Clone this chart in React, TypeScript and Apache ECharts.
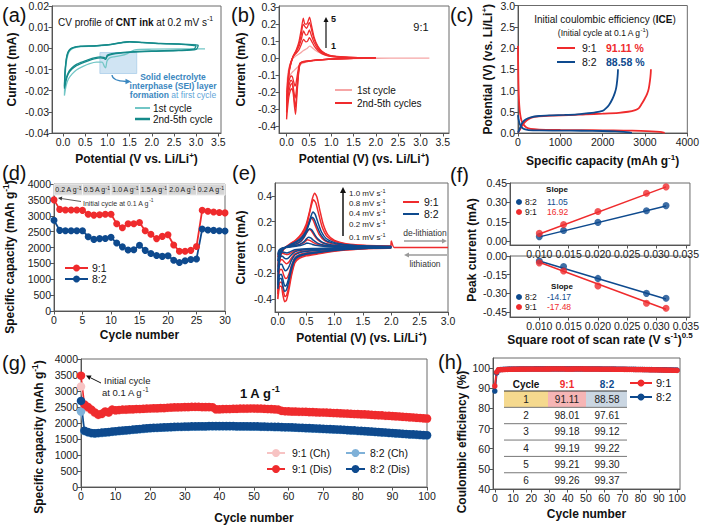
import React, { useEffect, useRef } from "react";
import * as echarts from "echarts";

const FONT = 'Arial, "Liberation Sans", Helvetica, sans-serif';
const RED = "#ef2b2d";
const BLUE = "#0e4a8e";
const TEAL_L = "#72c6c6";
const TEAL_D = "#158a8a";
const RED_L = "#f6a6a6";
const PINK = "#f7c3c3";
const LBLUE = "#7fb1d8";

// ================= DATA =================
// (a) CV of CNT ink, 0.2 mV/s  [potential V, current mA]
const cntCycle1 = [[3.2,-0.0003],[2.6,-0.0003],[2.0,-0.0004],[1.6,-0.0008],[1.45,-0.0025],[1.3,-0.0035],[1.15,-0.004],[1.05,-0.0045],[0.99,-0.006],[0.96,-0.0092],[0.93,-0.0085],[0.88,-0.0065],[0.75,-0.0065],[0.6,-0.0072],[0.45,-0.0085],[0.3,-0.0102],[0.2,-0.0122],[0.12,-0.0145],[0.07,-0.0175],[0.03,-0.0223],[0.04,-0.016],[0.06,-0.009],[0.09,-0.0045],[0.14,-0.0015],[0.22,0.0],[0.4,0.0008],[0.7,0.001],[1.0,0.0015],[1.3,0.0025],[1.5,0.003],[1.8,0.0027],[2.2,0.0022],[2.6,0.002],[3.0,0.0017]];
const cntCycle2 = [[3.05,0.0015],[3.0,-0.0005],[2.6,-0.0011],[2.0,-0.0014],[1.6,-0.0018],[1.3,-0.0022],[1.1,-0.0028],[1.0,-0.0036],[0.96,-0.0052],[0.92,-0.0048],[0.85,-0.0045],[0.7,-0.005],[0.55,-0.006],[0.4,-0.0072],[0.3,-0.0082],[0.2,-0.0098],[0.12,-0.012],[0.07,-0.015],[0.03,-0.019],[0.04,-0.013],[0.06,-0.0075],[0.09,-0.0035],[0.14,-0.001],[0.22,0.0002],[0.4,0.0009],[0.7,0.0011],[1.0,0.0016],[1.3,0.0026],[1.5,0.0032],[1.8,0.0028],[2.2,0.0023],[2.6,0.0021],[3.05,0.0015]];
const cntCycle5 = [[3.0,0.0012],[2.95,-0.0004],[2.6,-0.0009],[2.0,-0.0012],[1.6,-0.0016],[1.3,-0.002],[1.1,-0.0025],[1.0,-0.0032],[0.96,-0.0046],[0.92,-0.0043],[0.85,-0.004],[0.7,-0.0045],[0.55,-0.0055],[0.4,-0.0066],[0.3,-0.0076],[0.2,-0.0092],[0.12,-0.0113],[0.07,-0.0142],[0.03,-0.018],[0.04,-0.012],[0.06,-0.007],[0.09,-0.003],[0.14,-0.0008],[0.22,0.0003],[0.4,0.001],[0.7,0.0012],[1.0,0.0017],[1.3,0.0027],[1.5,0.0031],[1.8,0.0027],[2.2,0.0022],[2.6,0.002],[3.0,0.0012]];
const seiBox = [[0.83, -0.002], [1.66, -0.0119]];

// (b) CV of 9:1, cycles 1-5
const cv91Cycle1 = [[3.2,0.0],[2.6,0.0],[2.0,-0.001],[1.5,-0.003],[1.1,-0.006],[0.8,-0.01],[0.6,-0.015],[0.45,-0.022],[0.35,-0.032],[0.28,-0.045],[0.22,-0.06],[0.16,-0.075],[0.12,-0.085],[0.08,-0.1],[0.05,-0.12],[0.02,-0.16],[0.0,-0.2],[0.01,-0.15],[0.03,-0.09],[0.06,-0.05],[0.1,-0.02],[0.15,0.0],[0.22,0.015],[0.3,0.028],[0.38,0.045],[0.45,0.055],[0.52,0.07],[0.58,0.06],[0.65,0.045],[0.75,0.03],[0.9,0.015],[1.1,0.007],[1.4,0.003],[2.0,0.001]];
const cv91Cycle2 = [[2.0,0.002],[1.5,-0.002],[1.1,-0.005],[0.8,-0.009],[0.6,-0.013],[0.45,-0.018],[0.35,-0.022],[0.3,-0.03],[0.27,-0.055],[0.24,-0.1],[0.21,-0.15],[0.19,-0.165],[0.16,-0.14],[0.13,-0.11],[0.1,-0.105],[0.07,-0.12],[0.04,-0.15],[0.02,-0.19],[0.0,-0.25],[0.01,-0.19],[0.03,-0.12],[0.06,-0.06],[0.1,-0.02],[0.15,0.01],[0.22,0.03],[0.28,0.05],[0.33,0.08],[0.38,0.11],[0.43,0.095],[0.47,0.1],[0.51,0.12],[0.56,0.1],[0.62,0.07],[0.7,0.045],[0.8,0.025],[0.95,0.012],[1.2,0.005],[1.6,0.002],[2.0,0.002]];
const cv91Cycle3 = [[2.0,0.002],[1.5,-0.002],[1.1,-0.005],[0.8,-0.009],[0.6,-0.013],[0.45,-0.018],[0.35,-0.023],[0.3,-0.032],[0.27,-0.07],[0.24,-0.14],[0.21,-0.21],[0.19,-0.235],[0.16,-0.19],[0.13,-0.14],[0.1,-0.13],[0.07,-0.145],[0.04,-0.18],[0.02,-0.23],[0.0,-0.29],[0.01,-0.22],[0.03,-0.14],[0.06,-0.07],[0.1,-0.025],[0.15,0.01],[0.22,0.04],[0.28,0.07],[0.33,0.11],[0.38,0.16],[0.43,0.135],[0.47,0.14],[0.51,0.165],[0.56,0.13],[0.62,0.09],[0.7,0.055],[0.8,0.03],[0.95,0.014],[1.2,0.006],[1.6,0.002],[2.0,0.002]];
const cv91Cycle4 = [[2.0,0.002],[1.5,-0.002],[1.1,-0.005],[0.8,-0.009],[0.6,-0.014],[0.45,-0.019],[0.35,-0.024],[0.3,-0.035],[0.27,-0.08],[0.24,-0.17],[0.21,-0.26],[0.195,-0.29],[0.17,-0.24],[0.14,-0.17],[0.11,-0.15],[0.08,-0.165],[0.05,-0.2],[0.02,-0.26],[0.0,-0.32],[0.01,-0.24],[0.03,-0.15],[0.06,-0.075],[0.1,-0.028],[0.15,0.012],[0.22,0.045],[0.28,0.085],[0.33,0.14],[0.37,0.2],[0.41,0.185],[0.45,0.175],[0.51,0.21],[0.56,0.165],[0.62,0.11],[0.7,0.065],[0.8,0.035],[0.95,0.016],[1.2,0.007],[1.6,0.003],[2.0,0.002]];
const cv91Cycle5 = [[2.0,0.002],[1.5,-0.002],[1.1,-0.005],[0.8,-0.01],[0.6,-0.015],[0.45,-0.02],[0.35,-0.025],[0.3,-0.038],[0.27,-0.09],[0.24,-0.19],[0.215,-0.29],[0.2,-0.33],[0.175,-0.28],[0.145,-0.2],[0.115,-0.18],[0.085,-0.19],[0.05,-0.23],[0.02,-0.3],[0.0,-0.36],[0.01,-0.26],[0.03,-0.16],[0.06,-0.08],[0.1,-0.03],[0.15,0.012],[0.22,0.05],[0.28,0.1],[0.33,0.17],[0.375,0.235],[0.41,0.2],[0.45,0.2],[0.515,0.24],[0.56,0.19],[0.62,0.12],[0.7,0.07],[0.8,0.038],[0.95,0.018],[1.2,0.008],[1.6,0.003],[2.0,0.002]];

// (c) first charge/discharge at 0.1 A/g [capacity mAh/g, potential V]
const gcd91Charge = [[0,0.01],[30,0.05],[70,0.12],[130,0.22],[210,0.3],[320,0.36],[480,0.39],[840,0.41],[1200,0.42],[1600,0.44],[2000,0.455],[2380,0.475],[2600,0.5],[2770,0.54],[2850,0.58],[2920,0.68],[2990,0.8],[3050,0.92],[3090,1.05],[3120,1.25],[3135,1.4],[3140,1.5]];
const gcd91Discharge = [[0,2.05],[4,1.6],[10,1.2],[18,0.9],[30,0.65],[50,0.45],[80,0.3],[130,0.2],[200,0.13],[300,0.095],[500,0.08],[1000,0.072],[1500,0.068],[2000,0.064],[2500,0.058],[2900,0.05],[3150,0.04],[3350,0.024],[3465,0.005]];
const gcd82Charge = [[0,0.01],[25,0.06],[60,0.15],[110,0.25],[180,0.32],[300,0.37],[500,0.4],[800,0.415],[1100,0.425],[1400,0.44],[1610,0.46],[1800,0.48],[1995,0.52],[2076,0.58],[2150,0.66],[2230,0.8],[2290,0.95],[2323,1.08],[2345,1.25],[2358,1.4],[2362,1.5]];
const gcd82Discharge = [[0,0.42],[10,0.35],[25,0.27],[50,0.19],[90,0.13],[150,0.09],[250,0.07],[500,0.06],[1000,0.057],[1500,0.053],[2000,0.047],[2300,0.04],[2500,0.028],[2620,0.015],[2690,0.003]];

// (d) rate capability (cycle 0..30)
const rate91 = [3500,3200,3180,3180,3180,3170,3050,3020,3030,3050,3050,2750,2620,2750,2750,2790,2530,2420,2280,2350,2400,2080,1880,1880,1910,2030,3175,3140,3120,3100,3090];
const rate82 = [2860,2540,2530,2530,2530,2530,2340,2255,2280,2285,2320,2140,2020,1920,1930,2070,1910,1810,1750,1720,1740,1600,1530,1580,1620,1635,2580,2550,2540,2530,2520];
const rateBands = [[0,5],[5,10],[10,15],[15,20],[20,25],[25,30]];
const rateBandLabels = ["0.2", "0.5", "1.0", "1.5", "2.0", "0.2"];

// (e) CV at different scan rates
const scanRateLabels = ["1.0", "0.8", "0.4", "0.2", "0.1"];
const cvE91_10 = [[3.0,0.0],[2.05,0.0],[2.0,0.05],[1.98,-0.004],[1.6,-0.008],[1.2,-0.02],[0.9,-0.035],[0.7,-0.05],[0.5,-0.065],[0.38,-0.085],[0.3,-0.12],[0.24,-0.22],[0.19,-0.34],[0.15,-0.41],[0.12,-0.42],[0.09,-0.37],[0.06,-0.3],[0.03,-0.3],[0.01,-0.36],[0.0,-0.4],[0.01,-0.25],[0.03,-0.12],[0.07,-0.04],[0.13,0.0],[0.22,0.03],[0.32,0.06],[0.42,0.11],[0.5,0.18],[0.56,0.28],[0.61,0.38],[0.65,0.42],[0.69,0.39],[0.74,0.29],[0.8,0.18],[0.88,0.1],[1.0,0.055],[1.2,0.03],[1.5,0.018],[2.0,0.012]];
const cvE91_08 = [[2.0,0.0],[1.6,-0.007],[1.2,-0.018],[0.9,-0.032],[0.7,-0.045],[0.5,-0.058],[0.38,-0.077],[0.3,-0.11],[0.24,-0.2],[0.19,-0.31],[0.155,-0.37],[0.125,-0.38],[0.095,-0.33],[0.065,-0.27],[0.035,-0.27],[0.015,-0.32],[0.0,-0.36],[0.01,-0.22],[0.03,-0.1],[0.07,-0.035],[0.13,0.0],[0.22,0.027],[0.32,0.055],[0.42,0.1],[0.5,0.16],[0.55,0.25],[0.6,0.34],[0.63,0.37],[0.67,0.345],[0.72,0.26],[0.78,0.16],[0.86,0.09],[1.0,0.048],[1.2,0.026],[1.5,0.016],[2.0,0.01]];
const cvE91_04 = [[2.0,0.0],[1.6,-0.005],[1.2,-0.012],[0.9,-0.022],[0.7,-0.032],[0.5,-0.042],[0.38,-0.055],[0.3,-0.08],[0.24,-0.14],[0.2,-0.2],[0.165,-0.235],[0.135,-0.24],[0.1,-0.21],[0.07,-0.17],[0.04,-0.17],[0.015,-0.21],[0.0,-0.25],[0.01,-0.15],[0.03,-0.07],[0.07,-0.025],[0.13,0.0],[0.22,0.02],[0.32,0.04],[0.4,0.07],[0.47,0.12],[0.53,0.18],[0.56,0.215],[0.58,0.23],[0.62,0.215],[0.67,0.16],[0.73,0.1],[0.82,0.055],[0.95,0.03],[1.2,0.016],[1.5,0.01],[2.0,0.007]];
const cvE91_02 = [[2.0,0.0],[1.6,-0.003],[1.2,-0.008],[0.9,-0.014],[0.7,-0.02],[0.5,-0.027],[0.38,-0.035],[0.3,-0.05],[0.24,-0.08],[0.2,-0.11],[0.17,-0.123],[0.145,-0.125],[0.11,-0.11],[0.08,-0.095],[0.05,-0.095],[0.02,-0.12],[0.0,-0.15],[0.01,-0.09],[0.03,-0.045],[0.07,-0.015],[0.13,0.0],[0.22,0.013],[0.32,0.027],[0.4,0.045],[0.46,0.075],[0.51,0.115],[0.55,0.14],[0.59,0.13],[0.64,0.095],[0.7,0.06],[0.8,0.033],[0.95,0.018],[1.2,0.01],[1.5,0.006],[2.0,0.004]];
const cvE91_01 = [[2.0,0.0],[1.6,-0.002],[1.2,-0.005],[0.9,-0.008],[0.7,-0.011],[0.5,-0.015],[0.38,-0.02],[0.3,-0.027],[0.24,-0.04],[0.2,-0.05],[0.16,-0.055],[0.12,-0.05],[0.08,-0.045],[0.05,-0.048],[0.02,-0.06],[0.0,-0.075],[0.01,-0.045],[0.03,-0.022],[0.07,-0.008],[0.13,0.0],[0.22,0.008],[0.32,0.015],[0.4,0.024],[0.46,0.037],[0.49,0.05],[0.52,0.06],[0.56,0.055],[0.62,0.04],[0.7,0.025],[0.8,0.015],[1.0,0.008],[1.4,0.004],[2.0,0.002]];
const cvE82_10 = [[2.0,0.0],[1.6,-0.006],[1.2,-0.016],[0.9,-0.028],[0.7,-0.04],[0.5,-0.052],[0.38,-0.068],[0.3,-0.095],[0.24,-0.17],[0.19,-0.27],[0.15,-0.33],[0.12,-0.34],[0.09,-0.3],[0.06,-0.24],[0.03,-0.24],[0.01,-0.29],[0.0,-0.32],[0.01,-0.2],[0.03,-0.09],[0.07,-0.03],[0.13,0.0],[0.22,0.022],[0.32,0.045],[0.42,0.08],[0.5,0.13],[0.55,0.19],[0.59,0.25],[0.62,0.275],[0.66,0.255],[0.71,0.19],[0.77,0.12],[0.85,0.07],[1.0,0.038],[1.2,0.022],[1.5,0.013],[2.0,0.008]];
const cvE82_08 = [[2.0,0.0],[1.6,-0.005],[1.2,-0.014],[0.9,-0.025],[0.7,-0.035],[0.5,-0.046],[0.38,-0.06],[0.3,-0.085],[0.24,-0.15],[0.19,-0.24],[0.155,-0.29],[0.125,-0.3],[0.095,-0.26],[0.065,-0.21],[0.035,-0.21],[0.012,-0.26],[0.0,-0.29],[0.01,-0.18],[0.03,-0.08],[0.07,-0.027],[0.13,0.0],[0.22,0.019],[0.32,0.04],[0.42,0.07],[0.49,0.115],[0.54,0.17],[0.58,0.22],[0.6,0.235],[0.64,0.22],[0.69,0.165],[0.75,0.105],[0.83,0.06],[1.0,0.032],[1.2,0.019],[1.5,0.011],[2.0,0.007]];
const cvE82_04 = [[2.0,0.0],[1.6,-0.004],[1.2,-0.009],[0.9,-0.016],[0.7,-0.023],[0.5,-0.031],[0.38,-0.04],[0.3,-0.058],[0.24,-0.1],[0.2,-0.145],[0.16,-0.175],[0.13,-0.18],[0.1,-0.16],[0.07,-0.13],[0.04,-0.13],[0.015,-0.16],[0.0,-0.19],[0.01,-0.11],[0.03,-0.05],[0.07,-0.017],[0.13,0.0],[0.22,0.013],[0.32,0.028],[0.4,0.048],[0.46,0.08],[0.51,0.12],[0.56,0.145],[0.6,0.135],[0.65,0.1],[0.71,0.065],[0.8,0.037],[0.95,0.02],[1.2,0.011],[1.5,0.007],[2.0,0.005]];
const cvE82_02 = [[2.0,0.0],[1.6,-0.002],[1.2,-0.005],[0.9,-0.009],[0.7,-0.013],[0.5,-0.018],[0.38,-0.024],[0.3,-0.034],[0.24,-0.055],[0.2,-0.075],[0.17,-0.086],[0.14,-0.088],[0.11,-0.08],[0.08,-0.068],[0.05,-0.068],[0.02,-0.085],[0.0,-0.105],[0.01,-0.06],[0.03,-0.028],[0.07,-0.01],[0.13,0.0],[0.22,0.008],[0.32,0.017],[0.4,0.028],[0.46,0.045],[0.5,0.065],[0.54,0.08],[0.58,0.074],[0.63,0.055],[0.7,0.034],[0.8,0.02],[0.95,0.011],[1.2,0.006],[1.5,0.004],[2.0,0.003]];
const cvE82_01 = [[2.0,0.0],[1.6,-0.001],[1.2,-0.003],[0.9,-0.005],[0.7,-0.007],[0.5,-0.01],[0.38,-0.013],[0.3,-0.018],[0.24,-0.028],[0.2,-0.037],[0.16,-0.042],[0.12,-0.039],[0.08,-0.034],[0.05,-0.035],[0.02,-0.045],[0.0,-0.055],[0.01,-0.032],[0.03,-0.015],[0.07,-0.005],[0.13,0.0],[0.22,0.004],[0.32,0.009],[0.4,0.015],[0.46,0.024],[0.49,0.03],[0.51,0.035],[0.55,0.032],[0.61,0.024],[0.7,0.015],[0.8,0.009],[1.0,0.005],[1.4,0.002],[2.0,0.001]];

// (f) peak current vs sqrt(scan rate)
const sqrtScanRate = [0.01, 0.01414, 0.02, 0.02828, 0.03162];
const anodicPeak82 = [0.035, 0.082, 0.145, 0.235, 0.275];
const anodicPeak91 = [0.06, 0.128, 0.23, 0.37, 0.42];
const cathodicPeak82 = [-0.04, -0.085, -0.18, -0.3, -0.34];
const cathodicPeak91 = [-0.055, -0.12, -0.24, -0.38, -0.42];
const fitAnodic82 = [[0.01, 0.033], [0.0316, 0.272]];
const fitAnodic91 = [[0.01, 0.055], [0.0316, 0.42]];
const fitCathodic82 = [[0.01, -0.04], [0.0316, -0.346]];
const fitCathodic91 = [[0.01, -0.05], [0.0316, -0.428]];
const slopeAnodic = { "8:2": "11.05", "9:1": "16.92" };
const slopeCathodic = { "8:2": "-14.17", "9:1": "-17.48" };

// (g) long cycling at 1 A/g (cycle 0..100)
const cyc91Dis = [3480,2580,2500,2420,2330,2260,2290,2360,2330,2420,2400, 2410,2420,2420,2430,2430,2440,2440,2445,2450, 2455,2460,2460,2470,2470,2480,2485,2490,2490,2495, 2500,2500,2505,2505,2505,2500,2500,2500,2495,2430, 2430,2435,2440,2440,2445,2445,2450,2450,2450,2455, 2455,2450,2450,2445,2440,2435,2430,2420,2380,2370, 2365,2360,2360,2355,2355,2350,2345,2340,2335,2330, 2330,2325,2320,2315,2310,2305,2300,2295,2290,2285, 2280,2275,2270,2265,2255,2250,2245,2240,2230,2225, 2220,2210,2205,2195,2190,2180,2175,2165,2160,2150,2140];
const cyc91Ch = [3140,2530,2470,2395,2310,2245,2275,2345,2320,2405,2390, 2398,2408,2410,2418,2420,2428,2430,2435,2440, 2444,2450,2450,2458,2460,2468,2474,2478,2480,2485, 2488,2490,2494,2495,2494,2490,2490,2488,2484,2420, 2420,2424,2430,2430,2434,2435,2440,2440,2440,2444, 2445,2440,2440,2434,2430,2425,2420,2410,2370,2360, 2355,2350,2350,2345,2345,2340,2335,2330,2325,2320, 2320,2315,2310,2305,2300,2295,2290,2285,2280,2275, 2270,2265,2260,2255,2245,2240,2235,2230,2220,2215, 2210,2200,2195,2185,2180,2170,2165,2155,2150,2140,2130];
const cyc82Dis = [2690,1760,1720,1690,1680,1690,1700,1710,1720,1735,1745, 1755,1765,1775,1785,1795,1805,1815,1825,1835,1845, 1850,1855,1860,1865,1870,1875,1880,1885,1885,1890, 1890,1895,1895,1900,1900,1900,1905,1905,1905,1905, 1905,1905,1905,1905,1900,1900,1900,1900,1895,1895, 1895,1890,1890,1885,1885,1880,1880,1875,1870,1870, 1865,1860,1855,1850,1845,1840,1835,1830,1825,1820, 1815,1810,1805,1800,1795,1790,1780,1775,1770,1760, 1755,1750,1740,1735,1725,1720,1710,1705,1695,1690, 1680,1675,1665,1660,1650,1645,1640,1630,1625,1620];
const cyc82Ch = [2360,1745,1705,1678,1668,1678,1688,1698,1708,1722,1733, 1743,1753,1763,1773,1783,1793,1803,1813,1823,1833, 1838,1843,1848,1853,1858,1863,1868,1873,1873,1878, 1878,1883,1883,1888,1888,1888,1893,1893,1893,1893, 1893,1893,1893,1893,1888,1888,1888,1888,1883,1883, 1883,1878,1878,1873,1873,1868,1868,1863,1858,1858, 1853,1848,1843,1838,1833,1828,1823,1818,1813,1808, 1803,1798,1793,1788,1783,1778,1768,1763,1758,1748, 1743,1738,1728,1723,1713,1708,1698,1693,1683,1678, 1668,1663,1653,1648,1638,1633,1628,1618,1613,1608];

// (h) coulombic efficiency (cycle 0..100)
const ce91 = [91.11,98.01,99.18,99.19,99.21,99.26,99.31,99.35,99.38,99.40, 99.42,99.44,99.45,99.46,99.47,99.48,99.48,99.49,99.50,99.50, 99.51,99.51,99.52,99.52,99.52,99.53,99.53,99.53,99.54,99.54, 99.54,99.55,99.55,99.55,99.55,99.55,99.56,99.56,99.56,99.50, 99.52,99.53,99.54,99.54,99.55,99.55,99.55,99.55,99.55,99.54, 99.54,99.54,99.53,99.53,99.52,99.52,99.51,99.50,99.46,99.45, 99.45,99.44,99.44,99.43,99.43,99.42,99.41,99.40,99.39,99.38, 99.37,99.36,99.35,99.34,99.33,99.32,99.30,99.29,99.28,99.26, 99.25,99.23,99.22,99.20,99.18,99.17,99.15,99.13,99.11,99.09, 99.07,99.05,99.03,99.01,98.99,98.97,98.95,98.93,98.91,98.89,98.87];
const ce82 = [88.58,97.61,99.12,99.22,99.30,99.37,99.41,99.44,99.47,99.49, 99.50,99.52,99.53,99.54,99.55,99.56,99.56,99.57,99.57,99.58, 99.58,99.58,99.59,99.59,99.59,99.60,99.60,99.60,99.60,99.60, 99.61,99.61,99.61,99.61,99.61,99.61,99.61,99.61,99.60,99.60, 99.60,99.60,99.60,99.60,99.60,99.59,99.59,99.59,99.59,99.58, 99.58,99.58,99.57,99.57,99.56,99.56,99.55,99.55,99.54,99.53, 99.53,99.52,99.51,99.50,99.49,99.48,99.47,99.46,99.45,99.44, 99.43,99.42,99.41,99.40,99.39,99.38,99.36,99.35,99.34,99.33, 99.31,99.30,99.29,99.27,99.26,99.24,99.23,99.21,99.20,99.18, 99.16,99.15,99.13,99.12,99.10,99.08,99.07,99.05,99.03,99.02,99.00];
const ceTableHeader = ["Cycle", "9:1", "8:2"];
const ceTableRows = [["1","91.11","88.58"],["2","98.01","97.61"],["3","99.18","99.12"],["4","99.19","99.22"],["5","99.21","99.30"],["6","99.26","99.37"]];

// tick values
const ticksPot35 = [0, 0.5, 1, 1.5, 2, 2.5, 3, 3.5];
const ticksA_y = [-0.04, -0.03, -0.02, -0.01, 0, 0.01, 0.02];
const ticksB_y = [-0.4, -0.3, -0.2, -0.1, 0, 0.1, 0.2, 0.3];
const ticksC_x = [0, 1000, 2000, 3000, 4000];
const ticksC_y = [0, 0.5, 1, 1.5, 2, 2.5, 3];
const ticksD_x = [0, 5, 10, 15, 20, 25, 30];
const ticksCap = [0, 500, 1000, 1500, 2000, 2500, 3000, 3500, 4000];
const ticksE_x = [0, 0.5, 1, 1.5, 2, 2.5, 3];
const ticksE_y = [-0.4, -0.2, 0, 0.2, 0.4];
const ticksF_x = [0.01, 0.015, 0.02, 0.025, 0.03, 0.035];
const ticksFTop_y = [0, 0.15, 0.3, 0.45];
const ticksFBot_y = [-0.45, -0.3, -0.15, 0];
const ticksCycle100 = [0, 10, 20, 30, 40, 50, 60, 70, 80, 90, 100];
const ticksH_y = [40, 50, 60, 70, 80, 90, 100];

// ================= helpers =================
const nameStyle = {
  fontFamily: FONT, fontSize: 12, fontWeight: "bold", color: "#111", lineHeight: 16,
  rich: { sup: { fontFamily: FONT, fontSize: 8, fontWeight: "bold", color: "#111", verticalAlign: "top", lineHeight: 8 } },
};

function vAxis(gi: number, min: number, max: number, ticks: number[], dec: number, name?: string, gap?: number) {
  return {
    type: "value", gridIndex: gi, min, max,
    axisLine: { show: true, onZero: false, lineStyle: { color: "#555", width: 1 } },
    axisTick: { show: true, length: 3.5, customValues: ticks, lineStyle: { color: "#555" } },
    axisLabel: { show: true, customValues: ticks, formatter: (v: number) => Number(v).toFixed(dec), fontSize: 10.5, color: "#1a1a1a", fontFamily: FONT, margin: 3 },
    splitLine: { show: false },
    name: name || "", nameLocation: "middle", nameGap: gap || 20, nameTextStyle: nameStyle,
  };
}

function R(size: number, color = "#111", extra: any = {}) {
  const lh = Math.round(size * 1.4);
  const sub = Math.round(size * 0.7 * 10) / 10;
  return {
    n: { fontFamily: FONT, fontSize: size, fontWeight: "normal", fill: color, color, lineHeight: lh },
    b: { fontFamily: FONT, fontSize: size, fontWeight: "bold", fill: color, color, lineHeight: lh },
    s: { fontFamily: FONT, fontSize: sub, fontWeight: "normal", fill: color, color, verticalAlign: "top", lineHeight: sub },
    bs: { fontFamily: FONT, fontSize: sub, fontWeight: "bold", fill: color, color, verticalAlign: "top", lineHeight: sub },
    ...extra,
  };
}

function T(x: number, y: number, text: string, size: number, o: any = {}) {
  const align = o.align || "left";
  return {
    type: "text", x, y, z: 100, silent: true, rotation: o.rot || 0,
    style: {
      text, fontSize: size, fontFamily: FONT, fontWeight: o.bold ? "bold" : "normal",
      fill: o.color || "#111", align, textAlign: align, verticalAlign: "middle", textVerticalAlign: "middle",
      lineHeight: Math.round(size * 1.4), rich: o.rich,
    },
  };
}

function L(x1: number, y1: number, x2: number, y2: number, color: string, w = 1) {
  return { type: "line", z: 100, silent: true, shape: { x1, y1, x2, y2 }, style: { stroke: color, lineWidth: w } };
}

function C(cx: number, cy: number, r: number, color: string) {
  return { type: "circle", z: 101, silent: true, shape: { cx, cy, r }, style: { fill: color } };
}

function arrow(x1: number, y1: number, x2: number, y2: number, color: string, w = 1, hl = 5, hw = 2.5) {
  const a = Math.atan2(y2 - y1, x2 - x1);
  const bx = x2 - hl * Math.cos(a), by = y2 - hl * Math.sin(a);
  const px = -Math.sin(a) * hw, py = Math.cos(a) * hw;
  return [
    L(x1, y1, bx, by, color, w),
    { type: "polygon", z: 100, silent: true, shape: { points: [[x2, y2], [bx + px, by + py], [bx - px, by - py]] }, style: { fill: color } },
  ];
}

function lineSeries(ai: number, data: number[][], color: string, width = 1.4, extra: any = {}) {
  return {
    type: "line", xAxisIndex: ai, yAxisIndex: ai, data, symbol: "none", showSymbol: false,
    smooth: 0.25, lineStyle: { color, width }, itemStyle: { color }, silent: true, z: 3, ...extra,
  };
}

function dotSeries(ai: number, data: number[][], color: string, size: number, width: number, extra: any = {}) {
  return {
    type: "line", xAxisIndex: ai, yAxisIndex: ai, data, symbol: "circle", symbolSize: size, showSymbol: true,
    lineStyle: { color, width }, itemStyle: { color }, silent: true, z: 3, ...extra,
  };
}

const idx = (arr: number[]) => arr.map((v, i) => [i, v]);
const zip = (xs: number[], ys: number[]) => xs.map((x, i) => [x, ys[i]]);

function grid(left: number, top: number, width: number, height: number) {
  return { left, top, width, height, show: true, borderColor: "#6b6b6b", borderWidth: 1, backgroundColor: "transparent", containLabel: false };
}

function buildOption() {
  const grids = [
    grid(52, 6, 169, 127),   // a
    grid(279, 6, 170, 127),  // b
    grid(518, 5, 171, 128),  // c
    grid(54, 184, 171, 127), // d
    grid(275, 183, 173, 129),// e
    grid(510, 183, 183, 62), // f top
    grid(510, 256, 183, 61), // f bottom
    grid(81, 359, 346, 129), // g
    grid(493, 358, 187, 131),// h
  ];

  const xAxis = [
    vAxis(0, -0.25, 3.56, ticksPot35, 1, "Potential (V vs. Li/Li{sup|+})", 18),
    vAxis(1, -0.17, 3.64, ticksPot35, 1, "Potential (V) (vs. Li/Li{sup|+})", 18),
    vAxis(2, 0, 4000, ticksC_x, 0, "Specific capacity (mAh g{sup|-1})", 20),
    vAxis(3, 0, 30, ticksD_x, 0, "Cycle number", 16),
    vAxis(4, -0.05, 3.0, ticksE_x, 1, "Potential (V) (vs. Li/Li{sup|+})", 18),
    vAxis(5, 0.005, 0.0357, ticksF_x, 3),
    vAxis(6, 0.005, 0.0357, ticksF_x, 3, "Square root of scan rate (V s{sup|-1}){sup|0.5}", 13),
    vAxis(7, 0, 100, ticksCycle100, 0, "Cycle number", 23),
    vAxis(8, -1, 101.6, ticksCycle100, 0, "Cycle number", 17),
  ];
  const yAxis = [
    vAxis(0, -0.04, 0.02, ticksA_y, 2, "Current (mA)", 32),
    vAxis(1, -0.44, 0.306, ticksB_y, 1, "Current (mA)", 30),
    vAxis(2, 0, 3, ticksC_y, 1, "Potential (V) (vs. Li/Li{sup|+})", 22),
    vAxis(3, 0, 4000, ticksCap, 0),
    vAxis(4, -0.5, 0.5, ticksE_y, 1, "Current (mA)", 26),
    vAxis(5, -0.03, 0.45, ticksFTop_y, 2),
    vAxis(6, -0.49, 0, ticksFBot_y, 2),
    vAxis(7, 0, 4000, ticksCap, 0),
    vAxis(8, 40, 105, ticksH_y, 0),
  ];

  const series: any[] = [];
  // (a)
  series.push(lineSeries(0, cntCycle1, TEAL_L, 1.3, {
    markArea: {
      silent: true,
      itemStyle: { color: "rgba(150,196,228,0.45)", borderColor: "#a9cde8", borderWidth: 0.8 },
      data: [[{ xAxis: seiBox[0][0], yAxis: seiBox[0][1] }, { xAxis: seiBox[1][0], yAxis: seiBox[1][1] }]],
    },
  }));
  series.push(lineSeries(0, cntCycle2, TEAL_D, 1.3));
  series.push(lineSeries(0, cntCycle5, TEAL_D, 1.3));
  // (b)
  series.push(lineSeries(1, cv91Cycle1, RED_L, 1.3));
  [cv91Cycle2, cv91Cycle3, cv91Cycle4, cv91Cycle5].forEach((d) => series.push(lineSeries(1, d, RED, 1.3, { smooth: 0.2 })));
  // (c)
  series.push(lineSeries(2, gcd91Charge, RED, 1.8, { smooth: 0.3 }));
  series.push(lineSeries(2, gcd91Discharge, RED, 1.8, { smooth: 0.3 }));
  series.push(lineSeries(2, gcd82Charge, BLUE, 1.8, { smooth: 0.3 }));
  series.push(lineSeries(2, gcd82Discharge, BLUE, 1.8, { smooth: 0.3 }));
  // (d)
  series.push(dotSeries(3, idx(rate91), RED, 7, 1.8, {
    markArea: {
      silent: true,
      itemStyle: { color: "#d5d5d5", borderColor: "#f2f2f2", borderWidth: 1 },
      label: {
        show: true, position: "inside", fontFamily: FONT, fontSize: 7, color: "#222", lineHeight: 9,
        formatter: (p: any) => `${p.name} A g{s|-1}`,
        rich: { s: { fontFamily: FONT, fontSize: 5, color: "#222", verticalAlign: "top", lineHeight: 5 } },
      },
      data: rateBands.map((b, i) => [{ xAxis: b[0], yAxis: 3650, name: rateBandLabels[i] }, { xAxis: b[1], yAxis: 4000 }]),
    },
  }));
  series.push(dotSeries(3, idx(rate82), BLUE, 7, 1.8));
  // (e)
  [cvE91_10, cvE91_08, cvE91_04, cvE91_02, cvE91_01].forEach((d) => series.push(lineSeries(4, d, RED, 1.5, { smooth: 0.2 })));
  [cvE82_10, cvE82_08, cvE82_04, cvE82_02, cvE82_01].forEach((d) => series.push(lineSeries(4, d, BLUE, 1.5, { smooth: 0.2 })));
  // (f)
  series.push(lineSeries(5, fitAnodic82, BLUE, 1.5, { smooth: false }));
  series.push(lineSeries(5, fitAnodic91, RED, 1.5, { smooth: false }));
  series.push({ type: "scatter", xAxisIndex: 5, yAxisIndex: 5, data: zip(sqrtScanRate, anodicPeak82), symbolSize: 7, itemStyle: { color: BLUE }, silent: true, z: 4 });
  series.push({ type: "scatter", xAxisIndex: 5, yAxisIndex: 5, data: zip(sqrtScanRate, anodicPeak91), symbolSize: 7, itemStyle: { color: RED }, silent: true, z: 4 });
  series.push(lineSeries(6, fitCathodic82, BLUE, 1.5, { smooth: false }));
  series.push(lineSeries(6, fitCathodic91, RED, 1.5, { smooth: false }));
  series.push({ type: "scatter", xAxisIndex: 6, yAxisIndex: 6, data: zip(sqrtScanRate, cathodicPeak82), symbolSize: 7, itemStyle: { color: BLUE }, silent: true, z: 4 });
  series.push({ type: "scatter", xAxisIndex: 6, yAxisIndex: 6, data: zip(sqrtScanRate, cathodicPeak91), symbolSize: 7, itemStyle: { color: RED }, silent: true, z: 4 });
  // (g)
  series.push(dotSeries(7, idx(cyc91Ch), PINK, 8.5, 1.5));
  series.push(dotSeries(7, idx(cyc82Ch), LBLUE, 8.5, 1.5));
  series.push(dotSeries(7, idx(cyc91Dis), RED, 8.5, 1.5));
  series.push(dotSeries(7, idx(cyc82Dis), BLUE, 8.5, 1.5));
  // (h)
  series.push(dotSeries(8, idx(ce82), BLUE, 5.5, 2));
  series.push(dotSeries(8, idx(ce91), RED, 5.5, 2));

  // ---------- graphic ----------
  const g: any[] = [];
  // panel labels
  g.push(T(2, 15, "(a)", 20), T(231, 15, "(b)", 20), T(450, 15, "(c)", 20), T(2, 173, "(d)", 20),
    T(232, 173, "(e)", 20), T(450, 175, "(f)", 20), T(2, 363, "(g)", 20), T(438, 362, "(h)", 20));

  // rotated y titles that sit off-centre in the reference
  const capTitle = "{b|Specific capacity (mAh g}{bs|-1}{b|)}";
  g.push(T(10, 257, capTitle, 12, { align: "center", rot: Math.PI / 2, rich: R(12) }));
  g.push(T(39, 437, capTitle, 12, { align: "center", rot: Math.PI / 2, rich: R(12) }));
  g.push(T(462, 442, "Coulombic efficiency (%)", 12, { bold: true, align: "center", rot: Math.PI / 2 }));

  // (a)
  g.push(T(58, 22, "{n|CV profile of }{b|CNT ink}{n| at 0.2 mV s}{s|-1}", 10, { rich: R(10) }));
  const sei = { b: { fontFamily: FONT, fontSize: 8.5, fontWeight: "bold", fill: "#3b87c0", lineHeight: 10 }, l: { fontFamily: FONT, fontSize: 8.5, fontWeight: "normal", fill: "#5fa6d8", lineHeight: 10 } };
  g.push(T(173, 77, "{b|Solid electrolyte}", 8.5, { align: "center", rich: sei }));
  g.push(T(173, 86, "{b|interphase (SEI) layer}", 8.5, { align: "center", rich: sei }));
  g.push(T(173, 95, "{b|formation}{l| at first cycle}", 8.5, { align: "center", rich: sei }));
  g.push({ type: "bezierCurve", z: 100, silent: true, shape: { x1: 112, y1: 75, x2: 126, y2: 81.5, cpx1: 112.5, cpy1: 81 }, style: { stroke: "#3b87c0", lineWidth: 1.3, fill: "none" } });
  g.push({ type: "polygon", z: 100, silent: true, shape: { points: [[131, 81.5], [125.5, 78.8], [125.5, 84.2]] }, style: { fill: "#3b87c0" } });
  g.push(L(135, 108, 150, 108, TEAL_L, 2), T(153, 108, "1st cycle", 10));
  g.push(L(135, 119, 150, 119, TEAL_D, 2.5), T(153, 119, "2nd-5th cycle", 10));

  // (b)
  g.push(T(421, 27, "9:1", 11, { align: "center" }));
  g.push(...arrow(326, 48, 326, 17, "#111", 1.2, 5, 2.5));
  g.push(T(331, 19, "5", 9, { bold: true }), T(331, 46, "1", 9, { bold: true }));
  g.push(L(335, 90, 352, 90, RED_L, 2), T(357, 90, "1st cycle", 10));
  g.push(L(335, 103, 352, 103, RED, 2), T(357, 103, "2nd-5th cycles", 10));

  // (c)
  g.push(T(605, 19, "{n|Initial coulombic efficiency (}{b|ICE}{n|)}", 10, { align: "center", rich: R(10) }));
  g.push(T(603, 33, "{n|(Initial cycle at 0.1 A g}{s|-1}{n|)}", 8.5, { align: "center", rich: R(8.5) }));
  g.push(L(557, 48, 575, 48, RED, 2), T(582, 48, "9:1", 10.5), T(606, 48, "91.11 %", 10.5, { bold: true, color: RED }));
  g.push(L(557, 62, 575, 62, BLUE, 2), T(582, 62, "8:2", 10.5), T(606, 62, "88.58 %", 10.5, { bold: true, color: BLUE }));

  // (d)
  g.push(...arrow(81, 201.5, 58, 198, "#333", 0.8, 4, 2));
  g.push(T(83, 203, "{n|Initial cycle at 0.1 A g}{s|-1}", 7, { rich: R(7, "#333") }));
  g.push(L(65, 268, 88, 268, RED, 2), C(76.5, 268, 3.5, RED), T(92, 268, "9:1", 10.5));
  g.push(L(65, 279, 88, 279, BLUE, 2), C(76.5, 279, 3.5, BLUE), T(92, 279, "8:2", 10.5));

  // (e)
  g.push(...arrow(343, 236, 343, 187, "#111", 1.5, 6, 3));
  const rateY = [193, 203, 213, 224, 237];
  scanRateLabels.forEach((r, i) => g.push(T(349, rateY[i], `{n|${r} mV s}{s|-1}`, 8, { rich: R(8, "#222") })));
  g.push(L(403, 202, 419, 202, RED, 2), T(424, 202, "9:1", 10.5));
  g.push(L(403, 214, 419, 214, BLUE, 2), T(424, 214, "8:2", 10.5));
  g.push(T(425, 233, "de-lithiation", 8.5, { align: "center", color: "#333" }));
  g.push(...arrow(404, 241, 447, 241, "#9a9a9a", 1.5, 5, 2.5));
  g.push(...arrow(447, 255, 404, 255, "#9a9a9a", 1.5, 5, 2.5));
  g.push(T(425, 264, "lithiation", 8.5, { align: "center", color: "#333" }));

  // (f)
  g.push(T(472, 250, "Peak current (mA)", 12, { bold: true, align: "center", rot: Math.PI / 2 }));
  g.push(T(557, 189, "Slope", 8, { bold: true, align: "center" }));
  g.push(C(519, 202, 3, BLUE), T(525, 202, "8:2", 8.5), T(547, 202, slopeAnodic["8:2"], 8.5, { color: BLUE }));
  g.push(C(519, 212, 3, RED), T(525, 212, "9:1", 8.5), T(547, 212, slopeAnodic["9:1"], 8.5, { color: RED }));
  g.push(T(562, 286, "Slope", 8, { bold: true, align: "center" }));
  g.push(C(519, 297, 3, BLUE), T(525, 297, "8:2", 8.5), T(547, 297, slopeCathodic["8:2"], 8.5, { color: BLUE }));
  g.push(C(519, 307, 3, RED), T(525, 307, "9:1", 8.5), T(547, 307, slopeCathodic["9:1"], 8.5, { color: RED }));

  // (g)
  g.push(...arrow(101, 383, 86, 375.5, "#111", 1, 5, 2.5));
  g.push(T(104, 380, "Initial cycle", 9.5, { color: "#222" }));
  g.push(T(102, 392, "{n|at 0.1 A g}{s|-1}", 9.5, { rich: R(9.5, "#222") }));
  g.push(T(240, 393, "{b|1 A g}{bs|-1}", 13, { rich: R(13) }));
  g.push(L(267, 453, 285, 453, PINK, 2), C(276, 453, 4, PINK), T(292, 453, "9:1 (Ch)", 10.5));
  g.push(L(346, 453, 365, 453, LBLUE, 2), C(355.5, 453, 4, LBLUE), T(370, 453, "8:2 (Ch)", 10.5));
  g.push(L(267, 469, 285, 469, RED, 2), C(276, 469, 4, RED), T(292, 469, "9:1 (Dis)", 10.5));
  g.push(L(346, 469, 365, 469, BLUE, 2), C(355.5, 469, 4, BLUE), T(370, 469, "8:2 (Dis)", 10.5));

  // (h) table
  const colX = [504, 548, 586, 627];
  const colC = [526, 567, 607];
  const rowTop = 391, rowH = 16.35;
  const row1Fill = ["#f5d98e", "#f6b5b5", "#cad6e2"];
  row1Fill.forEach((f, i) => g.push({ type: "rect", z: 99, silent: true, shape: { x: colX[i], y: rowTop, width: colX[i + 1] - colX[i], height: rowH }, style: { fill: f } }));
  g.push(T(colC[0], 384, ceTableHeader[0], 10, { bold: true, align: "center" }));
  g.push(T(colC[1], 384, ceTableHeader[1], 10, { bold: true, align: "center", color: RED }));
  g.push(T(colC[2], 384, ceTableHeader[2], 10, { bold: true, align: "center", color: BLUE }));
  g.push(L(colX[0], rowTop, colX[3], rowTop, "#333", 1.2));
  ceTableRows.forEach((row, r) => {
    const cy = rowTop + rowH * r + rowH / 2;
    row.forEach((cell, c) => g.push(T(colC[c], cy, cell, 10, { align: "center", color: "#222" })));
    if (r > 0) g.push(L(colX[0], rowTop + rowH * r, colX[3], rowTop + rowH * r, "#777", 1));
  });
  g.push(L(630, 383, 652, 383, RED, 2), C(641, 383, 3.5, RED), T(656, 383, "9:1", 11));
  g.push(L(630, 397, 652, 397, BLUE, 2), C(641, 397, 3.5, BLUE), T(656, 397, "8:2", 11));

  return {
    animation: false,
    backgroundColor: "#ffffff",
    textStyle: { fontFamily: FONT },
    grid: grids,
    xAxis,
    yAxis,
    series,
    graphic: { elements: g },
  };
}

export default function App() {
  const ref = useRef<HTMLDivElement>(null);
  useEffect(() => {
    const chart = echarts.init(ref.current!, null, { renderer: "svg" });
    chart.setOption(buildOption() as any);
    return () => chart.dispose();
  }, []);
  return <div ref={ref} style={{ position: "fixed", left: 0, top: 0, width: 702, height: 527, background: "#fff" }} />;
}
